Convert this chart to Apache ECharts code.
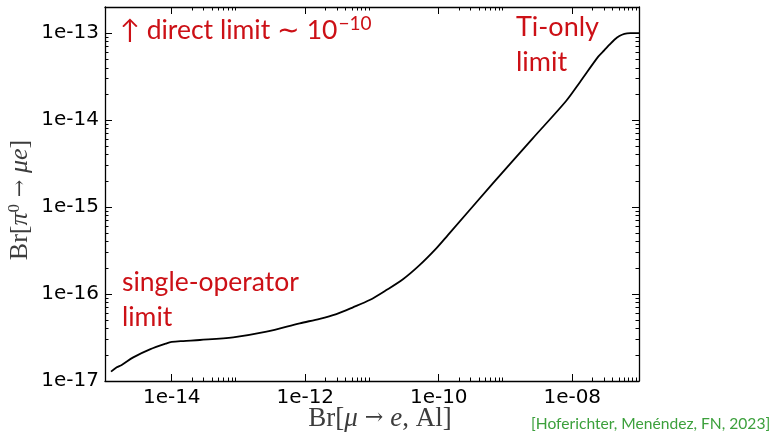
<!DOCTYPE html>
<html>
<head>
<meta charset="utf-8">
<script src="https://cdn.jsdelivr.net/npm/echarts@6/dist/echarts.min.js"></script>
<style>html,body{margin:0;padding:0;background:#fff}#c{width:777px;height:435px}</style>
</head>
<body>
<div id="c"></div>
<script>
// Br[mu -> e, Al]
const brMuE = [1.23e-15, 1.50e-15, 1.78e-15, 2.65e-15, 4.71e-15, 8.38e-15, 1.0e-14, 1.49e-14, 2.64e-14, 8.32e-14, 2.63e-13, 8.28e-13, 1.65e-12, 2.93e-12, 5.19e-12, 9.23e-12, 1.64e-11, 2.91e-11, 5.16e-11, 9.19e-11, 1.37e-10, 6.46e-10, 2.56e-9, 8.09e-9, 1.31e-8, 2.45e-8, 3.03e-8, 3.61e-8, 4.28e-8, 5.08e-8, 6.04e-8, 7.43e-8, 1.0e-7];
// Br[pi0 -> mu e]
const brPiMuE = [1.28e-17, 1.44e-17, 1.53e-17, 1.87e-17, 2.31e-17, 2.71e-17, 2.81e-17, 2.88e-17, 2.96e-17, 3.18e-17, 3.69e-17, 4.61e-17, 5.19e-17, 5.89e-17, 7.03e-17, 8.53e-17, 1.11e-16, 1.48e-16, 2.15e-16, 3.35e-16, 4.76e-16, 1.87e-15, 6.17e-15, 1.66e-14, 2.75e-14, 5.37e-14, 6.38e-14, 7.38e-14, 8.41e-14, 9.29e-14, 9.84e-14, 1.0e-13, 1.0e-13];

const xMajorTicks = [1e-14, 1e-12, 1e-10, 1e-8];
const yMajorTicks = [1e-17, 1e-16, 1e-15, 1e-14, 1e-13];
const xTickLabels = ['1e-14', '1e-12', '1e-10', '1e-08'];
const yTickLabels = ['1e-17', '1e-16', '1e-15', '1e-14', '1e-13'];
const minorMultipliers = [2, 3, 4, 5, 6, 7, 8, 9];

const X_MIN = 1e-15, X_MAX = 1e-7, Y_MIN = 1e-17, Y_MAX = 2e-13;

const xMinorTicks = [];
xMajorTicks.forEach(d => minorMultipliers.forEach(m => { const v = d * m; if (v < X_MAX) xMinorTicks.push(v); }));
const yMinorTicks = [];
yMajorTicks.forEach(d => minorMultipliers.forEach(m => { const v = d * m; if (v < Y_MAX * 0.999) yMinorTicks.push(v); }));

function labelFor(v, ticks, labels) {
  for (let i = 0; i < ticks.length; i++) {
    if (Math.abs(Math.log10(v) - Math.log10(ticks[i])) < 1e-6) return labels[i];
  }
  return '';
}

const chart = echarts.init(document.getElementById('c'), null, {renderer: 'canvas'});
const lineStyle = {color: '#000', width: 1.3};
const labelFont = {fontFamily: 'DejaVu Sans', fontSize: 20, color: '#000'};

function mkX(pos, ticks, len, showLine, showLabel, extra) {
  return Object.assign({
    type: 'log', logBase: 10, min: X_MIN, max: X_MAX, gridIndex: 0, position: pos, offset: 0,
    axisLine: {show: showLine, onZero: false, lineStyle: lineStyle},
    axisTick: {show: true, inside: true, length: len, customValues: ticks, lineStyle: {color: '#000', width: 1}},
    axisLabel: showLabel ? Object.assign({show: true, margin: 7, customValues: ticks,
      formatter: v => labelFor(v, xMajorTicks, xTickLabels)}, labelFont) : {show: false},
    splitLine: {show: false}, minorTick: {show: false}, minorSplitLine: {show: false}
  }, extra || {});
}
function mkY(pos, ticks, len, showLine, showLabel, extra) {
  return Object.assign({
    type: 'log', logBase: 10, min: Y_MIN, max: Y_MAX, gridIndex: 0, position: pos, offset: 0,
    axisLine: {show: showLine, onZero: false, lineStyle: lineStyle},
    axisTick: {show: true, inside: true, length: len, customValues: ticks, lineStyle: {color: '#000', width: 1}},
    axisLabel: showLabel ? Object.assign({show: true, margin: 6, customValues: ticks,
      formatter: v => labelFor(v, yMajorTicks, yTickLabels)}, labelFont) : {show: false},
    splitLine: {show: false}, minorTick: {show: false}, minorSplitLine: {show: false}
  }, extra || {});
}

const nameColor = '#3c3c3c';
const nameRichX = {
  s: {fontFamily: 'Liberation Serif', fontSize: 27, color: nameColor},
  i: {fontFamily: 'Liberation Serif', fontStyle: 'italic', fontSize: 27, color: nameColor},
  a: {fontFamily: 'DejaVu Serif', fontSize: 22, color: nameColor}
};
const nameRichY = {
  s: {fontFamily: 'Liberation Serif', fontSize: 26, color: nameColor},
  i: {fontFamily: 'Liberation Serif', fontStyle: 'italic', fontSize: 26, color: nameColor},
  a: {fontFamily: 'DejaVu Serif', fontSize: 21, color: nameColor},
  sup: {fontFamily: 'Liberation Serif', fontSize: 17, color: nameColor, padding: [0, 0, 12, 0]}
};

const red = '#cc1016';
const redFont = 'Lato';

chart.setOption({
  animation: false,
  backgroundColor: '#fff',
  grid: {left: 105, right: 138, top: 7, bottom: 54, containLabel: false, outerBoundsMode: 'none'},
  xAxis: [
    mkX('bottom', xMajorTicks, 7, true, true, {
      name: '{s|Br[}{i|μ}{a| → }{i|e}{s|, Al]}', nameLocation: 'middle', nameGap: 24, nameMoveOverlap: false,
      nameTextStyle: {rich: nameRichX, padding: [0, 0, 0, 16]}
    }),
    mkX('bottom', xMinorTicks, 3.5, false, false),
    mkX('top', xMajorTicks, 7, true, false),
    mkX('top', xMinorTicks, 3.5, false, false)
  ],
  yAxis: [
    mkY('left', yMajorTicks, 7, true, true, {
      name: '{s|Br[}{i|π}{sup|0}{a| → }{i|μe}{s|]}', nameLocation: 'middle', nameGap: 70, nameRotate: 90,
      nameMoveOverlap: false,
      nameTextStyle: {rich: nameRichY, padding: [0, 12, 0, 0]}
    }),
    mkY('left', yMinorTicks, 3.5, false, false),
    mkY('right', yMajorTicks, 7, true, false),
    mkY('right', yMinorTicks, 3.5, false, false)
  ],
  series: [{
    type: 'line', xAxisIndex: 0, yAxisIndex: 0,
    data: brMuE.map((x, i) => [x, brPiMuE[i]]),
    showSymbol: false, smooth: 0.3, clip: true,
    lineStyle: {color: '#000', width: 1.8}
  }],
  graphic: [
    {type: 'text', left: 120, top: 14, style: {
      text: '{a|↑ direct limit ∼ 10}{b|−10}',
      rich: {
        a: {fontFamily: redFont, fontSize: 26.5, fill: red, color: red},
        b: {fontFamily: redFont, fontSize: 19, fill: red, color: red, padding: [0, 0, 14, 1]}
      }
    }},
    {type: 'text', left: 516, top: 10, style: {
      text: 'Ti-only\nlimit', fontFamily: redFont, fontSize: 27, lineHeight: 35, fill: red
    }},
    {type: 'text', left: 122, top: 265, style: {
      text: 'single-operator\nlimit', fontFamily: redFont, fontSize: 26.5, lineHeight: 35, fill: red
    }},
    {type: 'text', left: 531, top: 416, style: {
      text: '[Hoferichter, Menéndez, FN, 2023]', fontFamily: redFont, fontSize: 15.6, fill: '#3ca03c'
    }}
  ]
});
</script>
</body>
</html>
